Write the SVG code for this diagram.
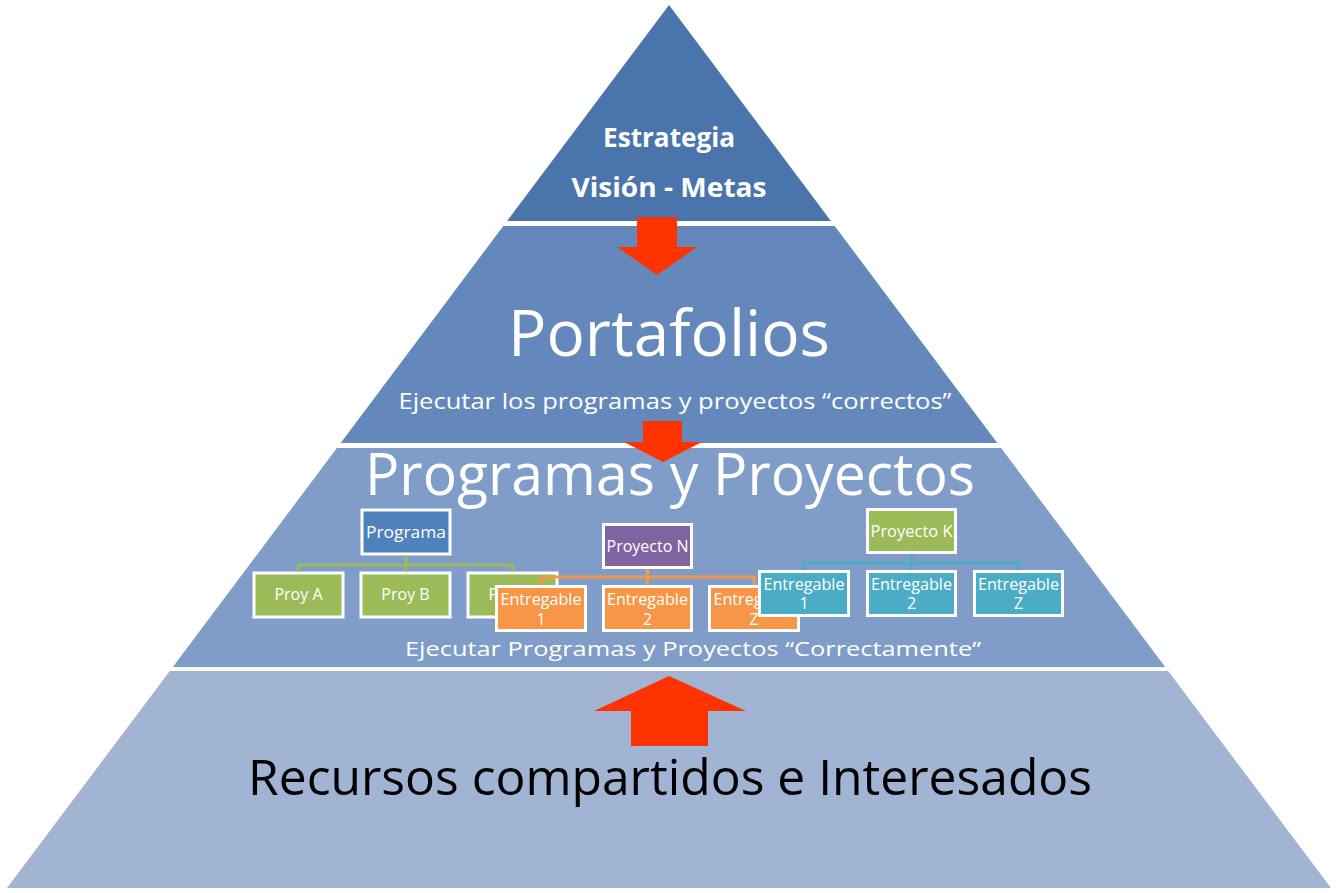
<svg xmlns="http://www.w3.org/2000/svg" width="1338" height="893" viewBox="0 0 1338 893">
<style>
  .t { font-family: "Open Sans", "Noto Sans", "Liberation Sans", sans-serif; text-anchor: middle; }
  .w { fill: #ffffff; }
  .box { stroke: #ffffff; stroke-width: 3; }
  .bt { font-family: "Open Sans", "Noto Sans", "Liberation Sans", sans-serif; text-anchor: middle; fill: #ffffff; font-size: 16px; }
  .arrow { fill: #ff3300; }
  .cg { stroke: #9bbb59; stroke-width: 3; fill: none; }
  .co { stroke: #f79646; stroke-width: 3; fill: none; }
  .cc { stroke: #4bacc6; stroke-width: 3; fill: none; }
</style>
<rect width="1338" height="893" fill="#ffffff"/>

<g id="nivel-estrategia">
  <polygon points="669,5 830.9,221 507.1,221" fill="#4975ac"/>
  <text class="t w" x="669" y="147" font-size="26" font-weight="bold" textLength="132" lengthAdjust="spacingAndGlyphs">Estrategia</text>
  <text class="t w" x="669" y="197" font-size="26" font-weight="bold" textLength="195" lengthAdjust="spacingAndGlyphs">Visión - Metas</text>
</g>

<g id="nivel-portafolios">
  <polygon points="503.3,226 834.7,226 997.3,443 340.7,443" fill="#6488bb"/>
  <text class="t w" x="669" y="356" font-size="64" textLength="322" lengthAdjust="spacingAndGlyphs">Portafolios</text>
  <text class="t w" x="675" y="409" font-size="21" textLength="553" lengthAdjust="spacingAndGlyphs">Ejecutar los programas y proyectos “correctos”</text>
</g>

<g id="nivel-programas">
  <polygon points="336.9,448 1001.1,448 1165.2,667 172.8,667" fill="#7f9dc8"/>
</g>

<g id="nivel-recursos">
  <polygon points="169.8,671 1168.2,671 1331,888 7,888" fill="#a1b4d4"/>
  <text class="t" x="670" y="795" font-size="49" fill="#000000" textLength="844" lengthAdjust="spacingAndGlyphs">Recursos compartidos e Interesados</text>
</g>

<g id="flechas">
  <polygon class="arrow" points="637,217 677,217 677,247 697,247 657,275 617,247 637,247"/>
  <polygon class="arrow" points="643,421 682,421 682,442 702,442 663,462 624,442 643,442"/>
  <polygon class="arrow" points="669,676 746,711 708,711 708,746 631,746 631,711 594,711"/>
</g>

<g id="textos-programas">
  <text class="t w" x="670" y="495" font-size="58" textLength="610" lengthAdjust="spacingAndGlyphs">Programas y Proyectos</text>
  <text class="t w" x="693" y="656" font-size="20" textLength="576" lengthAdjust="spacingAndGlyphs">Ejecutar Programas y Proyectos “Correctamente”</text>
</g>

<g id="programa">
  <rect class="box" x="362" y="510" width="88" height="44" fill="#4f81bd"/>
  <text class="bt" x="406" y="538" textLength="80" lengthAdjust="spacingAndGlyphs">Programa</text>
</g>
<g id="proy-a">
  <rect class="box" x="254" y="573" width="89" height="44" fill="#9bbb59"/>
  <text class="bt" x="298.5" y="600">Proy A</text>
</g>
<g id="proy-b">
  <rect class="box" x="361" y="573" width="89" height="44" fill="#9bbb59"/>
  <text class="bt" x="405.5" y="600">Proy B</text>
</g>
<g id="proy-c">
  <rect class="box" x="468" y="573" width="89" height="44" fill="#9bbb59"/>
  <text class="bt" x="512.5" y="600">Proy C</text>
</g>

<g id="proyecto-n">
  <rect class="box" x="603.5" y="524.5" width="88" height="43" fill="#8064a2"/>
  <text class="bt" x="647.5" y="552" textLength="82" lengthAdjust="spacingAndGlyphs">Proyecto N</text>
</g>
<g id="n-entregable-1">
  <rect class="box" x="496.5" y="586.5" width="89" height="44" fill="#f79646"/>
  <text class="bt" x="541" y="605" textLength="81" lengthAdjust="spacingAndGlyphs">Entregable</text>
  <text class="bt" x="541" y="625">1</text>
</g>
<g id="n-entregable-2">
  <rect class="box" x="603.5" y="586.5" width="88" height="44" fill="#f79646"/>
  <text class="bt" x="647.5" y="605" textLength="81" lengthAdjust="spacingAndGlyphs">Entregable</text>
  <text class="bt" x="647.5" y="625">2</text>
</g>
<g id="n-entregable-z">
  <rect class="box" x="709.5" y="586.5" width="89" height="44" fill="#f79646"/>
  <text class="bt" x="754" y="605" textLength="81" lengthAdjust="spacingAndGlyphs">Entregable</text>
  <text class="bt" x="754" y="625">Z</text>
</g>

<g id="proyecto-k">
  <rect class="box" x="867.5" y="509.5" width="88" height="43" fill="#9bbb59"/>
  <text class="bt" x="911.5" y="537" textLength="82" lengthAdjust="spacingAndGlyphs">Proyecto K</text>
</g>
<g id="k-entregable-1">
  <rect class="box" x="759.5" y="571.5" width="89" height="44" fill="#4bacc6"/>
  <text class="bt" x="804" y="590" textLength="81" lengthAdjust="spacingAndGlyphs">Entregable</text>
  <text class="bt" x="804" y="609">1</text>
</g>
<g id="k-entregable-2">
  <rect class="box" x="867.5" y="571.5" width="88" height="44" fill="#4bacc6"/>
  <text class="bt" x="911.5" y="590" textLength="81" lengthAdjust="spacingAndGlyphs">Entregable</text>
  <text class="bt" x="911.5" y="609">2</text>
</g>
<g id="k-entregable-z">
  <rect class="box" x="974.5" y="571.5" width="88" height="44" fill="#4bacc6"/>
  <text class="bt" x="1018.5" y="590" textLength="81" lengthAdjust="spacingAndGlyphs">Entregable</text>
  <text class="bt" x="1018.5" y="609">Z</text>
</g>

<g id="conectores">
  <path class="cg" d="M406,555.5 V565 M298.5,571.5 V565 H512.5 V571.5 M405.5,565 V571.5"/>
  <path class="co" d="M647.5,569 V577 M541,585 V577 H754 V585 M647.5,577 V585"/>
  <path class="cc" d="M911.5,554 V563 M804,570 V563 H1018.5 V570 M911.5,563 V570"/>
</g>
</svg>
